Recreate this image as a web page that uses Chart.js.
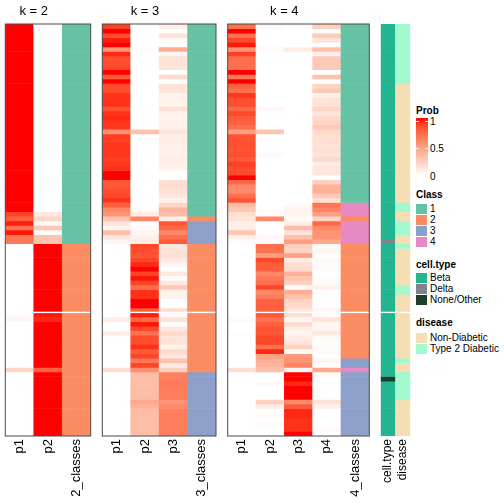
<!DOCTYPE html>
<html><head><meta charset="utf-8">
<script src="https://cdn.jsdelivr.net/npm/chart.js@4.4.0/dist/chart.umd.min.js"></script>
<style>
html,body{margin:0;padding:0;background:#fff;}
body{width:504px;height:504px;overflow:hidden;position:relative;font-family:"Liberation Sans",Arial,sans-serif;color:#000;}
canvas{position:absolute;top:0;}
.t{position:absolute;font-size:13px;line-height:13px;white-space:nowrap;text-align:center;width:100px;}
.lg{position:absolute;font-size:10px;line-height:10px;white-space:nowrap;}
.lt{font-weight:bold;}
.bx{position:absolute;width:10.5px;height:10px;}
</style></head><body>
<canvas id="c2" width="93" height="504" style="left:0px"></canvas>
<canvas id="c3" width="120" height="504" style="left:99px"></canvas>
<canvas id="c4" width="148" height="504" style="left:224px"></canvas>
<canvas id="ca" width="37" height="504" style="left:377px"></canvas>
<div id="legend"></div>
<script>
// ---------------- data ----------------
const colsK2 = ['p1','p2','2_classes'];
const colsK3 = ['p1','p2','p3','3_classes'];
const colsK4 = ['p1','p2','p3','p4','4_classes'];
const annoCols = ['cell.type','disease'];
const panelTitles = ['k = 2','k = 3','k = 4'];

const k2_p1 = [
1,1,1,1,1,1,1,1,1,1,
1,1,1,1,1,1,1,1,1,1,
1,1,1,1,1,1,1,1,1,1,
1,1,1,1,1,1,1,1,1,1,
1,0.88,0.78,0.97,0.7,0.98,0.68,0.68,0,0,
0,0,0,0,0,0,0,0,0,0,
0,0,0,0.02,0.05,0,0,0,0,0,
0,0,0,0,0,0.22,0,0,0,0,
0,0,0,0,0,0,0,0,0,0];
const k2_p2 = [
0,0,0,0,0,0,0,0,0,0,
0,0,0,0,0,0,0,0,0,0,
0,0,0,0,0,0,0,0,0,0,
0,0,0,0,0,0,0,0,0,0,
0,0.12,0.22,0.03,0.3,0.02,0.32,0.32,1,1,
1,1,1,1,1,1,1,1,1,1,
1,1,1,0.98,0.95,1,1,1,1,1,
1,1,1,1,1,0.78,1,1,1,1,
1,1,1,1,1,1,1,1,1,1];
const k2_class = [
1,1,1,1,1,1,1,1,1,1,
1,1,1,1,1,1,1,1,1,1,
1,1,1,1,1,1,1,1,1,1,
1,1,1,1,1,1,1,1,1,1,
1,1,1,1,1,1,1,1,2,2,
2,2,2,2,2,2,2,2,2,2,
2,2,2,2,2,2,2,2,2,2,
2,2,2,2,2,2,2,2,2,2,
2,2,2,2,2,2,2,2,2,2];

const k3_p1 = [
0.9,1,0.85,0.97,1,0.55,0.95,0.85,0.85,0.87,
1,0.8,1,0.85,0.85,0.93,0.93,0.93,0.83,0.93,
0.95,0.92,0.92,0.55,0.9,0.9,0.92,0.92,0.92,0.9,
0.92,0.93,1,1,0.82,0.82,0.85,0.87,0.93,0.78,
0.6,0.55,0.3,0.15,0.05,0.35,0.12,0.05,0,0,
0,0,0,0,0,0,0,0,0,0,
0,0,0,0,0.1,0,0,0.1,0,0,
0,0,0,0,0,0.17,0,0,0,0,
0,0,0,0,0,0,0,0,0,0];
const k3_p2 = [
0,0,0,0,0,0.02,0,0,0,0,
0,0,0,0,0,0,0,0,0,0,
0,0,0,0.32,0,0,0,0,0,0,
0,0,0,0,0,0,0,0,0,0,
0.02,0.1,0.62,0,0.03,0.05,0.08,0.1,0.87,0.85,
0.83,0.88,0.95,1,0.88,0.98,0.88,0.72,0.93,0.93,
1,1,0.8,0.97,0.75,0.98,0.87,0.7,0.85,0.85,
0.93,0.8,0.88,0.68,0.88,0.58,0.35,0.35,0.33,0.35,
0.35,0.35,0.45,0.4,0.35,0.35,0.35,0.35,0.35,0.35];
const k3_p3 = [
0.1,0,0.15,0.03,0,0.43,0.05,0.15,0.15,0.13,
0,0.2,0,0.15,0.15,0.07,0.07,0.07,0.17,0.07,
0.05,0.08,0.08,0.13,0.1,0.1,0.08,0.08,0.08,0.1,
0.08,0.07,0,0,0.18,0.18,0.15,0.13,0.07,0.22,
0.38,0.35,0.08,0.82,0.75,0.6,0.72,0.8,0.13,0.15,
0.17,0.12,0.05,0,0.12,0.02,0.12,0.28,0.07,0.07,
0,0,0.2,0.03,0.15,0.02,0.13,0.2,0.15,0.15,
0.07,0.2,0.12,0.32,0.12,0.25,0.65,0.65,0.67,0.65,
0.65,0.65,0.55,0.6,0.65,0.65,0.65,0.65,0.65,0.65];
const k3_class = [
1,1,1,1,1,1,1,1,1,1,
1,1,1,1,1,1,1,1,1,1,
1,1,1,1,1,1,1,1,1,1,
1,1,1,1,1,1,1,1,1,1,
1,1,2,3,3,3,3,3,2,2,
2,2,2,2,2,2,2,2,2,2,
2,2,2,2,2,2,2,2,2,2,
2,2,2,2,2,2,3,3,3,3,
3,3,3,3,3,3,3,3,3,3];

const k4_p1 = [
0.72,1,0.72,0.87,0.98,0.55,0.9,0.72,0.72,0.72,
1,0.68,1,0.78,0.72,0.92,0.85,0.85,0.75,0.87,
0.8,0.78,0.72,0.5,0.83,0.83,0.85,0.83,0.85,0.8,
0.9,0.87,0.87,1,0.75,0.6,0.6,0.72,0.83,0.35,
0.3,0.17,0.15,0.08,0.1,0.3,0.08,0.03,0,0,
0,0,0,0,0,0,0,0,0,0,
0,0,0,0,0.03,0,0,0.02,0,0,
0,0,0,0,0,0.17,0,0,0,0,
0,0,0,0,0,0,0,0,0,0];
const k4_p2 = [
0.03,0,0,0,0,0.03,0,0,0,0,
0,0,0,0,0,0,0,0,0.04,0,
0,0,0,0.3,0,0,0,0,0.03,0,
0,0,0,0,0,0,0,0,0,0,
0,0.03,0.6,0,0,0,0.04,0.02,0.72,0.7,
0.5,0.87,0.8,0.78,0.6,0.68,0.72,0.88,0.6,0.68,
0.78,0.78,0.78,0.8,0.7,0.78,0.83,0.82,0.87,0.87,
0.72,0.95,0.48,0.42,0.38,0.33,0,0,0.03,0,
0,0,0.25,0.1,0,0.03,0,0.03,0,0];
const k4_p3 = [
0,0,0,0,0,0.1,0,0,0,0,
0,0,0,0,0,0,0,0,0,0,
0,0,0,0,0,0,0,0,0,0,
0,0,0,0,0,0,0,0,0,0.03,
0.06,0.06,0.02,0.1,0.35,0.15,0.33,0.5,0.25,0.22,
0.5,0.1,0.17,0.2,0.4,0.3,0.25,0.02,0.42,0.32,
0.22,0.2,0.14,0.18,0.05,0.18,0.08,0.06,0.1,0.13,
0.25,0.02,0.52,0.55,0.62,0.05,1,1,0.95,1,
1,1,0.6,0.8,0.95,0.95,0.93,0.93,0.93,1];
const k4_p4 = [
0.25,0,0.28,0.13,0.02,0.33,0.08,0.28,0.28,0.28,
0,0.32,0,0.22,0.28,0.08,0.15,0.15,0.22,0.13,
0.2,0.22,0.28,0.2,0.17,0.17,0.15,0.17,0.14,0.2,
0.1,0.13,0.13,0,0.25,0.4,0.4,0.28,0.17,0.7,
0.62,0.5,0.23,0.75,0.6,0.55,0.55,0.45,0.03,0.05,
0,0.03,0.03,0.02,0,0.02,0.03,0.08,0,0,
0,0,0.05,0.02,0.15,0.04,0.06,0.12,0.03,0,
0.03,0.03,0,0.05,0,0.45,0.03,0,0,0,
0,0,0.15,0.08,0,0,0,0,0.03,0];
const k4_class = [
1,1,1,1,1,1,1,1,1,1,
1,1,1,1,1,1,1,1,1,1,
1,1,1,1,1,1,1,1,1,1,
1,1,1,1,1,1,1,1,1,4,
4,4,2,4,4,4,4,4,2,2,
2,2,2,2,2,2,2,2,2,2,
2,2,2,2,2,2,2,2,2,2,
2,2,2,3,3,4,3,3,3,3,
3,3,3,3,3,3,3,3,3,3];

const cellTypeLevels = ['Beta','Delta','None/Other'];
const cellType = [
0,0,0,0,0,0,0,0,0,0,
0,0,0,0,0,0,0,0,0,0,
0,0,0,0,0,0,0,0,0,0,
0,0,0,0,0,0,0,0,0,0,
0,0,0,0,0,0,0,1,0,0,
0,0,0,0,0,0,0,0,0,0,
0,0,0,0,0,0,0,0,0,0,
0,0,0,0,0,0,0,2,0,0,
0,0,0,0,0,0,0,0,0,0];
const diseaseLevels = ['Non-Diabetic','Type 2 Diabetic'];
const disease = [
1,1,1,1,1,1,1,1,1,1,
1,1,1,0,0,0,0,0,0,0,
0,0,0,0,0,0,0,0,0,0,
0,0,0,0,0,0,0,0,0,1,
1,0,0,1,1,1,0,0,1,0,
0,0,0,0,0,0,0,1,1,0,
0,0,0,0,0,0,0,0,0,0,
0,0,0,1,0,0,1,1,1,1,
1,1,0,0,0,0,0,0,0,0];
const classLevels = ['1','2','3','4'];
const probTicks = [1, 0.5, 0];

// ---------------- styles ----------------
const classColors = {1:'#66C2A5',2:'#FC8D62',3:'#8DA0CB',4:'#E78AC3'};
const cellTypeColors = ['#23B490','#808489','#1E3F29'];
const diseaseColors = ['#F5DEB3','#A0FACD'];
const sliceStartRow = 63; // first row of the second row slice

function rgb2lab(c){
  const f=v=>{v/=255;return v<=0.04045?v/12.92:Math.pow((v+0.055)/1.055,2.4);};
  const R=f(c[0]),G=f(c[1]),B=f(c[2]);
  let X=(R*0.4124564+G*0.3575761+B*0.1804375)/0.95047;
  let Y=(R*0.2126729+G*0.7151522+B*0.0721750);
  let Z=(R*0.0193339+G*0.1191920+B*0.9503041)/1.08883;
  const g=t=>t>0.008856?Math.cbrt(t):7.787*t+16/116;
  X=g(X);Y=g(Y);Z=g(Z);
  return [116*Y-16,500*(X-Y),200*(Y-Z)];
}
function lab2rgb(l){
  let Y=(l[0]+16)/116, X=l[1]/500+Y, Z=Y-l[2]/200;
  const gi=t=>t*t*t>0.008856?t*t*t:(t-16/116)/7.787;
  X=gi(X)*0.95047;Y=gi(Y);Z=gi(Z)*1.08883;
  const R=X*3.2404542-Y*1.5371385-Z*0.4985314;
  const G=-X*0.9692660+Y*1.8760108+Z*0.0415560;
  const B=X*0.0556434-Y*0.2040259+Z*1.0572252;
  const h=c=>{c=c<=0.0031308?12.92*c:1.055*Math.pow(c,1/2.4)-0.055;return Math.round(Math.max(0,Math.min(1,c))*255);};
  return [h(R),h(G),h(B)];
}
const labW=rgb2lab([255,255,255]), labR=rgb2lab([255,0,0]);
function probColor(v){
  const l=[0,1,2].map(i=>labW[i]+(labR[i]-labW[i])*v);
  const c=lab2rgb(l);
  return 'rgb('+c[0]+','+c[1]+','+c[2]+')';
}

Chart.defaults.font.family='"Liberation Sans", Arial, sans-serif';
Chart.defaults.color='#000';

const hmPlugin={
  id:'hm',
  afterDatasetsDraw(chart,args,o){
    const a=chart.chartArea, ctx=chart.ctx, y=chart.scales.y;
    ctx.save();
    const yy=y.getPixelForValue(o.gapRow);
    ctx.fillStyle='#fff';
    ctx.fillRect(a.left-1,yy-0.7,a.right-a.left+2,1.4);
    if(o.border){
      ctx.strokeStyle='#4a4a4a';ctx.lineWidth=1;
      ctx.strokeRect(a.left,a.top,a.right-a.left,a.bottom-a.top);
    }
    ctx.restore();
  }
};

function makeChart(id, labels, rowColors, padL, padR, fontSize, barPct, border){
  const nRows=rowColors.length;
  return new Chart(document.getElementById(id),{
    type:'bar',
    data:{labels:labels,datasets:rowColors.map(cols=>({
      data:labels.map(()=>1),backgroundColor:cols,borderWidth:0,inflateAmount:0.33,
      barPercentage:barPct,categoryPercentage:1}))},
    options:{
      responsive:false,animation:false,events:[],
      layout:{padding:{left:padL,right:padR,top:24,bottom:0},autoPadding:false},
      plugins:{legend:{display:false},tooltip:{enabled:false},title:{display:false},
        hm:{gapRow:sliceStartRow,border:border}},
      scales:{
        x:{stacked:true,grid:{display:false,drawTicks:false},border:{display:false},
           ticks:{autoSkip:false,maxRotation:90,minRotation:90,padding:3,font:{size:fontSize},color:'#000'},
           afterFit(s){s.height=68;s.paddingLeft=0;s.paddingRight=0;s.paddingTop=0;s.paddingBottom=0;}},
        y:{stacked:true,display:false,reverse:true,min:0,max:nRows,
           afterFit(s){s.paddingTop=0;s.paddingBottom=0;}}
      }
    },
    plugins:[hmPlugin]
  });
}

const rowsK2=k2_p1.map((v,r)=>[probColor(k2_p1[r]),probColor(k2_p2[r]),classColors[k2_class[r]]]);
const rowsK3=k3_p1.map((v,r)=>[probColor(k3_p1[r]),probColor(k3_p2[r]),probColor(k3_p3[r]),classColors[k3_class[r]]]);
const rowsK4=k4_p1.map((v,r)=>[probColor(k4_p1[r]),probColor(k4_p2[r]),probColor(k4_p3[r]),probColor(k4_p4[r]),classColors[k4_class[r]]]);
const rowsAnno=cellType.map((v,r)=>[cellTypeColors[cellType[r]],diseaseColors[disease[r]]]);

const ch2=makeChart('c2',colsK2,rowsK2,5.3,2.3,13,1,true);
const ch3=makeChart('c3',colsK3,rowsK3,3.3,3,13,1,true);
const ch4=makeChart('c4',colsK4,rowsK4,3.7,2.7,13,1,true);
const chA=makeChart('ca',annoCols,rowsAnno,3.5,3.5,12,14/15,false);

// panel titles centred over the probability columns
[[ch2,0],[ch3,99],[ch4,224]].forEach(([ch,off],i)=>{
  const x=ch.scales.x, n=ch.data.labels.length;
  const half=(x.getPixelForValue(1)-x.getPixelForValue(0))/2;
  const cx=off+((x.getPixelForValue(0)-half)+(x.getPixelForValue(n-2)+half))/2;
  const d=document.createElement('div');d.className='t';
  d.style.left=(cx-50)+'px';d.style.top='4.2px';d.textContent=panelTitles[i];
  document.body.appendChild(d);
});

// ---------------- legend ----------------
const L=document.getElementById('legend');
function addText(txt,left,top,bold){
  const d=document.createElement('div');d.className='lg'+(bold?' lt':'');
  d.style.left=left+'px';d.style.top=top+'px';d.textContent=txt;L.appendChild(d);
}
function addBox(col,left,top){
  const d=document.createElement('div');d.className='bx';
  d.style.left=left+'px';d.style.top=top+'px';d.style.background=col;L.appendChild(d);
}
addText('Prob',416,105.7,true);
const bar=document.createElement('div');
bar.style.cssText='position:absolute;left:416px;top:118px;width:12px;height:58px;';
const stops=[];for(let i=0;i<=10;i++){stops.push(probColor(1-i/10)+' '+(i*10)+'%');}
bar.style.background='linear-gradient(to bottom,'+stops.join(',')+')';
L.appendChild(bar);
const tickY={1:121.3,0.5:148.8,0:176.3};
probTicks.forEach(t=>{
  if(t>0){
    ['416','425'].forEach(lx=>{const m=document.createElement('div');
      m.style.cssText='position:absolute;left:'+lx+'px;top:'+(tickY[t]-0.5)+'px;width:3px;height:1px;background:rgba(255,255,255,0.85);';
      L.appendChild(m);});
  }
  addText(String(t),430,tickY[t]-4.7,false);
});
addText('Class',416,190,true);
classLevels.forEach((c,i)=>{const top=204+i*10.9;addBox(classColors[i+1],416,top);addText(c,430,top+0.3,false);});
addText('cell.type',416,260,true);
cellTypeLevels.forEach((c,i)=>{const top=272.7+i*10.9;addBox(cellTypeColors[i],416,top);addText(c,430,top+0.3,false);});
addText('disease',416,317.7,true);
diseaseLevels.forEach((c,i)=>{const top=332.7+i*10.9;addBox(diseaseColors[i],416,top);addText(c,430,top+0.3,false);});
</script>
</body></html>
